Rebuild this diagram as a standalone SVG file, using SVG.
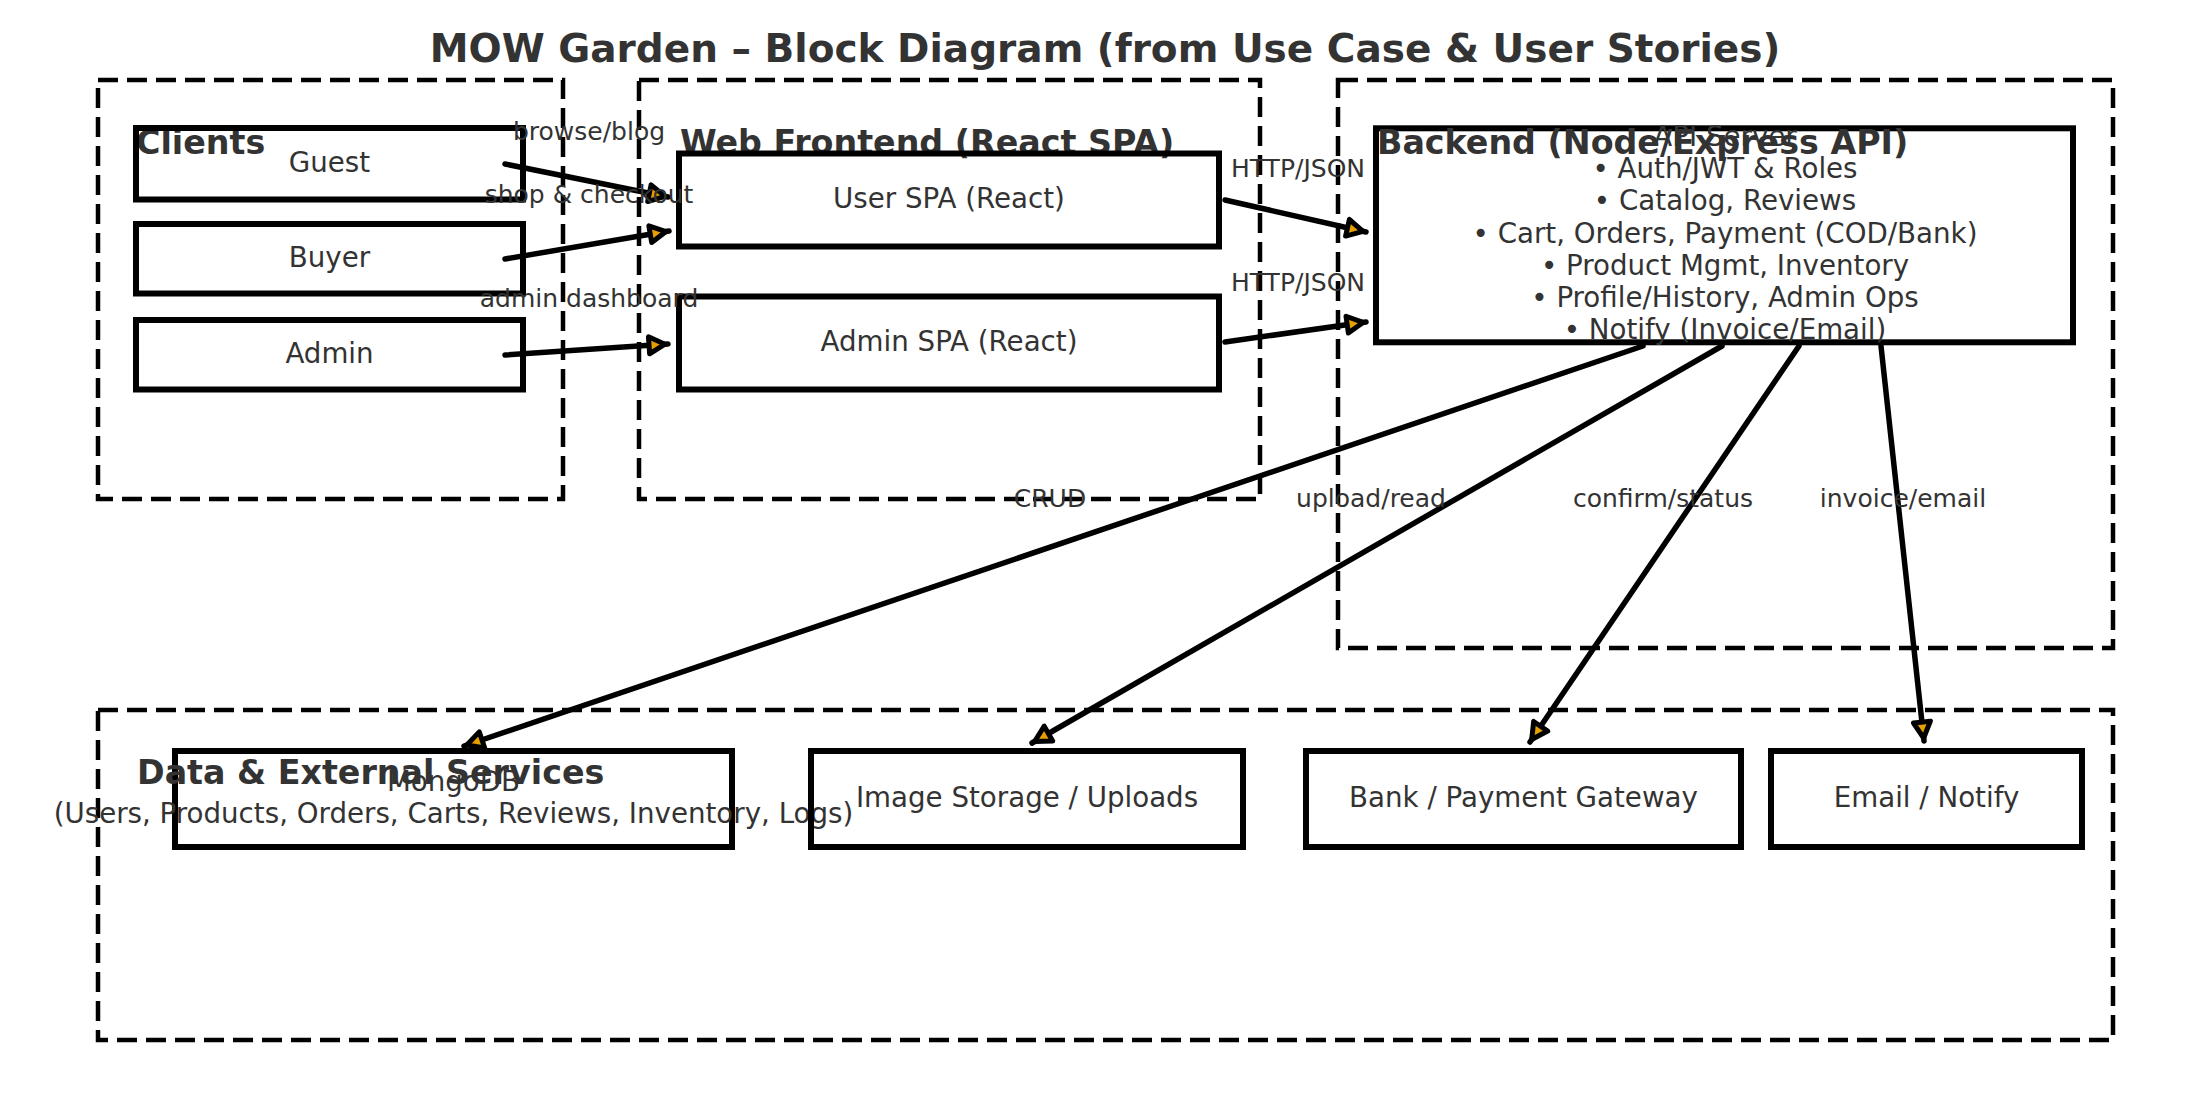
<svg xmlns="http://www.w3.org/2000/svg" width="2210" height="1118" viewBox="0 0 2210 1118">
<style>
text { font-family: "DejaVu Sans", "Liberation Sans", sans-serif; fill: #333333; }
.title { font-size: 39px; font-weight: bold; text-anchor: middle; }
.group { font-size: 33.3px; font-weight: bold; }
.node { font-size: 27.7px; text-anchor: middle; }
.lbl { font-size: 25px; text-anchor: middle; }
.container { fill: none; stroke: #000; stroke-width: 4.5; stroke-dasharray: 20 9; }
.box { fill: none; stroke: #000; stroke-width: 6; }
.edge { fill: none; stroke: #000; stroke-width: 5.5; stroke-linecap: round; marker-end: url(#arr); }
</style>
<defs>
<marker id="arr" markerUnits="userSpaceOnUse" viewBox="-26 -16 30 32" refX="0" refY="0" markerWidth="30" markerHeight="32" orient="auto" overflow="visible">
<path d="M-3,0 L-19,-8.5 L-19,8.5 Z" fill="#E69F00" stroke="#000" stroke-width="5" stroke-linejoin="round"/>
</marker>
</defs>
<rect width="2210" height="1118" fill="#ffffff"/>
<text class="title" x="1105" y="62">MOW Garden – Block Diagram (from Use Case &amp; User Stories)</text>

<g id="clients-group">
<rect class="container" x="98" y="80" width="465" height="419"/>
<text class="group" x="136" y="154">Clients</text>
</g>
<g id="frontend-group">
<rect class="container" x="639" y="80" width="621" height="419"/>
<text class="group" x="680" y="154">Web Frontend (React SPA)</text>
</g>
<g id="backend-group">
<rect class="container" x="1338" y="80" width="775" height="568"/>
</g>
<g id="data-group">
<rect class="container" x="98" y="710" width="2015" height="330"/>
</g>

<g id="guest"><rect class="box" x="136" y="128" width="387" height="71.5"/><text class="node" x="329.5" y="172">Guest</text></g>
<g id="buyer"><rect class="box" x="136" y="224" width="387" height="69.5"/><text class="node" x="329.5" y="267">Buyer</text></g>
<g id="admin"><rect class="box" x="136" y="320" width="387" height="69.5"/><text class="node" x="329.5" y="363">Admin</text></g>

<g id="user-spa"><rect class="box" x="679" y="153.5" width="540" height="93"/><text class="node" x="949" y="208">User SPA (React)</text></g>
<g id="admin-spa"><rect class="box" x="679" y="296.5" width="540" height="93"/><text class="node" x="949" y="351">Admin SPA (React)</text></g>

<g id="api-server">
<rect class="box" x="1376" y="128.3" width="697" height="214"/>
<text class="node" x="1725" y="146">API Server</text>
<text class="node" x="1725" y="178">• Auth/JWT &amp; Roles</text>
<text class="node" x="1725" y="210">• Catalog, Reviews</text>
<text class="node" x="1725" y="243">• Cart, Orders, Payment (COD/Bank)</text>
<text class="node" x="1725" y="275">• Product Mgmt, Inventory</text>
<text class="node" x="1725" y="307">• Profile/History, Admin Ops</text>
<text class="node" x="1725" y="339">• Notify (Invoice/Email)</text>
</g>
<text class="group" x="1377" y="154">Backend (Node/Express API)</text>

<g id="mongodb"><rect class="box" x="175" y="751" width="557" height="96"/><text class="node" x="453.5" y="791">MongoDB</text><text class="node" x="453.5" y="823">(Users, Products, Orders, Carts, Reviews, Inventory, Logs)</text></g>
<g id="image-storage"><rect class="box" x="811" y="751" width="432" height="96"/><text class="node" x="1027" y="807">Image Storage / Uploads</text></g>
<g id="bank"><rect class="box" x="1306" y="751" width="435" height="96"/><text class="node" x="1523.5" y="807">Bank / Payment Gateway</text></g>
<g id="email"><rect class="box" x="1771" y="751" width="311" height="96"/><text class="node" x="1926.5" y="807">Email / Notify</text></g>
<text class="group" x="137" y="784">Data &amp; External Services</text>

<g id="connectors">
<path class="edge" d="M505,164 L668,197"/>
<path class="edge" d="M505,259 L669,231"/>
<path class="edge" d="M505,355 L668,344"/>
<path class="edge" d="M1225,200 L1366,232"/>
<path class="edge" d="M1225,342 L1366,322"/>
<path class="edge" d="M1643,346 L464,746"/>
<path class="edge" d="M1722,346 L1032,743"/>
<path class="edge" d="M1799,346 L1530,742"/>
<path class="edge" d="M1881,346 L1924,741"/>
<text class="lbl" x="589" y="140">browse/blog</text>
<text class="lbl" x="589" y="203">shop &amp; checkout</text>
<text class="lbl" x="589" y="307">admin dashboard</text>
<text class="lbl" x="1298" y="177">HTTP/JSON</text>
<text class="lbl" x="1298" y="291">HTTP/JSON</text>
<text class="lbl" x="1050" y="507">CRUD</text>
<text class="lbl" x="1371" y="507">upload/read</text>
<text class="lbl" x="1663" y="507">confirm/status</text>
<text class="lbl" x="1903" y="507">invoice/email</text>
</g>
</svg>
